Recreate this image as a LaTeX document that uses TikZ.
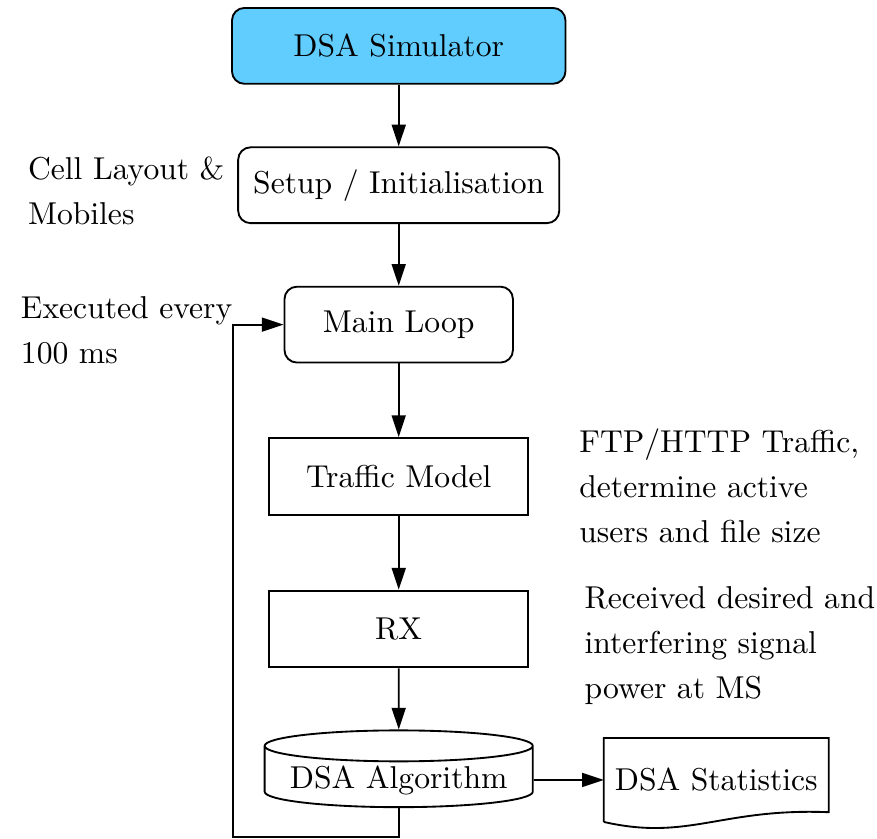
\documentclass[tikz,border=0pt]{standalone}
\usepackage{tikz}
\usetikzlibrary{shapes.geometric, positioning, arrows.meta, calc}
\definecolor{simblue}{RGB}{97,205,255}

\begin{document}
\begin{tikzpicture}[
    semithick,
    font=\fontsize{10.2}{14.5}\selectfont,
    >={Triangle[length=7pt, width=4.5pt]},
    startbox/.style={draw, rectangle, rounded corners=4pt, minimum width=3.78cm, minimum height=0.86cm, align=center, fill=simblue},
    process/.style={draw, rectangle, rounded corners=4pt, minimum height=0.86cm, align=center, fill=white},
    module/.style={draw, rectangle, minimum width=2.94cm, minimum height=0.87cm, align=center, fill=white},
    database/.style={draw, cylinder, shape border rotate=90, aspect=0.13, inner ysep=1pt, minimum width=3.04cm, minimum height=0.85cm, align=center, fill=white},
    docshape/.style={rectangle, inner sep=0pt, minimum width=2.53cm, minimum height=0.93cm, align=center},
    note/.style={anchor=west, align=left}
]
    \useasboundingbox (0,0) rectangle (9.942,-9.511);

    % --- Main flow ---
    \node[startbox] (sim) at (4.52,-0.52) {DSA Simulator};
    \node[process, minimum width=3.64cm] (setup) at (4.52,-2.10) {Setup / Initialisation};
    \node[process, minimum width=2.59cm] (main) at (4.52,-3.68) {Main Loop};
    \node[module] (traffic) at (4.52,-5.40) {Traffic Model};
    \node[module] (rx) at (4.52,-7.13) {RX};
    \node[database] (alg) at (4.52,-8.842) {DSA Algorithm};

    % --- Output document ---
    \node[docshape] (stats) at (8.12,-8.842) {DSA Statistics};
    \draw (stats.south west) -- (stats.north west) -- (stats.north east)
        -- ([yshift=0.11cm]stats.south east)
        .. controls +(-1.22,0.05) and +(0.96,-0.22) .. (stats.south west);

    % --- Connections ---
    \draw[->] (sim) -- (setup);
    \draw[->] (setup) -- (main);
    \draw[->] (main) -- (traffic);
    \draw[->] (traffic) -- (rx);
    \draw[->] (rx) -- (alg);
    \draw[->] (alg) -- (stats);

    % loop back to the main loop
    \coordinate (loopcorner) at (2.64,-9.488);
    \draw[->] (alg.south) |- (loopcorner) |- (main.west);

    % --- Annotations ---
    \node[note] (cellnote) at (0.19,-2.16) {Cell Layout \&\\Mobiles};
    \node[note] (execnote) at (0.11,-3.74) {Executed every\\100 ms};
    \node[note] (trafficnote) at (6.44,-5.51) {FTP/HTTP Traffic,\\determine active\\users and file size};
    \node[note] (rxnote) at (6.50,-7.32) {Received desired and\\interfering signal\\power at MS};

\end{tikzpicture}
\end{document}
